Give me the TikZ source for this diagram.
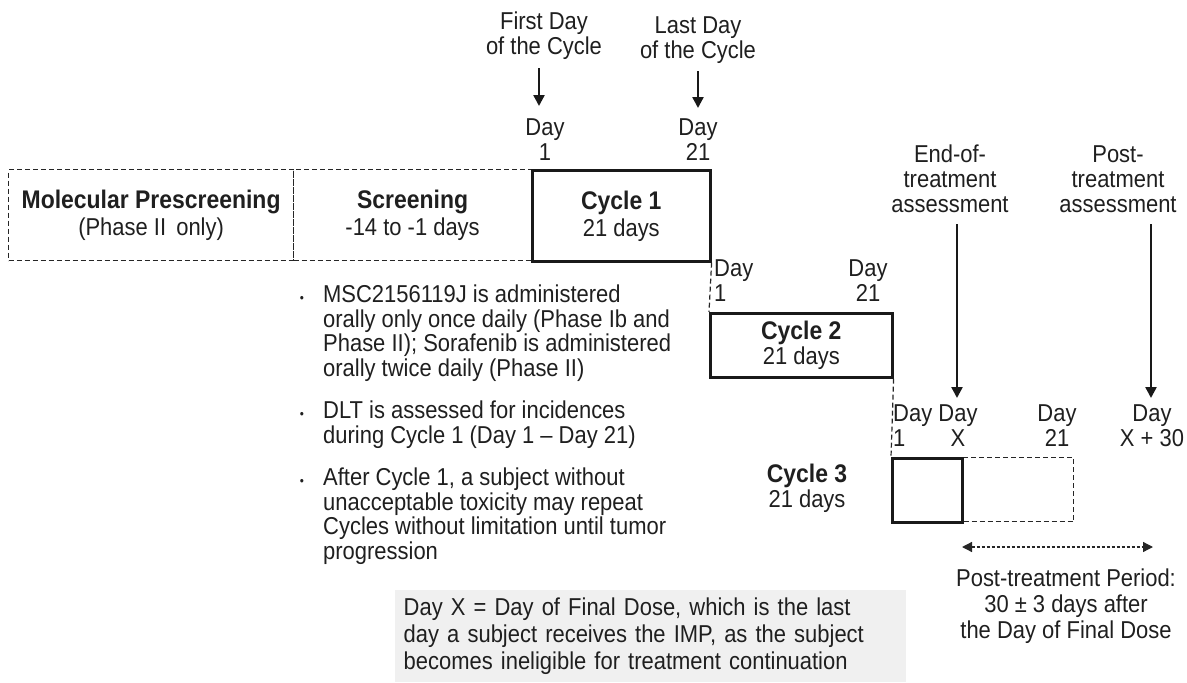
\documentclass[tikz,border=0pt]{standalone}
\usepackage{fontspec}
\setmainfont{Liberation Sans}[FakeStretch=0.9]
\usetikzlibrary{arrows.meta}
\newcommand{\bfl}[1]{{\fontsize{25.5}{25}\selectfont\textbf{#1}}}
\begin{document}
\begin{tikzpicture}[x=1pt,y=-1pt,
  every node/.style={font=\fontsize{24.4}{25}\selectfont, inner sep=0pt, text=black!88},
  lbl/.style={align=center},
  dbox/.style={draw=black!85, line width=1.2pt, dash pattern=on 5pt off 3pt, anchor=north west, align=center},
  sbox/.style={draw=black!90, line width=2.6pt, anchor=north west, align=center},
  arr/.style={draw=black!90, line width=2.4pt, -{Triangle[length=11pt,width=11pt]}},
  darr/.style={draw=black!85, line width=1.3pt, dash pattern=on 3pt off 2pt, {Triangle[length=10pt,width=10pt]}-{Triangle[length=10pt,width=10pt]}},
  conn/.style={draw=black!85, line width=1.2pt, dash pattern=on 5pt off 3pt},
  bul/.style={anchor=north west, align=left, font=\fontsize{24.4}{24.5}\selectfont}
]
\useasboundingbox (0,0) rectangle (1187,683);

% top boxes
\node[dbox, minimum width=285pt, minimum height=91pt] (mol) at (8,169) {\bfl{Molecular Prescreening}\\[2pt](Phase II\, only)};
\node[dbox, minimum width=238pt, minimum height=91pt] (scr) at (293,169) {\bfl{Screening}\\[2pt]-14 to -1 days};
\node[sbox, minimum width=178pt, minimum height=91pt] (c1) at (531,169) {\bfl{Cycle 1}\\[2pt]21 days};

% cycle 2
\node[sbox, minimum width=182pt, minimum height=64pt] (c2) at (709,312) {\bfl{Cycle 2}\\21 days};
\draw[conn] (c1.south east) -- (c2.north west);

% cycle 3
\node[dbox, minimum width=182pt, minimum height=64pt] (c3d) at (891,457) {};
\node[sbox, minimum width=70pt, minimum height=64pt] (c3) at (891,457) {};
\draw[conn] (c2.south east) -- (c3.north west);
\node[lbl] (c3l) at (807,488) {\bfl{Cycle 3}\\21 days};

% top annotations
\node[lbl] (fd) at (544,36) {First Day\\of the Cycle};
\node[lbl] (ld) at (698,40) {Last Day\\of the Cycle};
\coordinate (fda) at (539,68);
\coordinate (fdb) at (539,106);
\coordinate (lda) at (698,71);
\coordinate (ldb) at (698,108);
\draw[arr] (fda) -- (fdb);
\draw[arr] (lda) -- (ldb);
\node[lbl] (d1) at (545,140) {Day\\1};
\node[lbl] (d21) at (698,140) {Day\\21};

% cycle 2 days
\node[anchor=west, align=left] (c2d1) at (714,281) {Day\\1};
\node[lbl] (c2d21) at (868,281) {Day\\21};

% right annotations
\node[lbl] (eot) at (950,179) {End-of-\\treatment\\assessment};
\node[lbl] (pta) at (1118,179) {Post-\\treatment\\assessment};
\coordinate (ea) at (957,224);
\coordinate (eb) at (957,398);
\coordinate (pa) at (1151,224);
\coordinate (pb) at (1151,398);
\draw[arr] (ea) -- (eb);
\draw[arr] (pa) -- (pb);

% cycle 3 days
\node[anchor=west, align=left] (c3d1) at (893,426) {Day\\1};
\node[lbl] (c3dx) at (958,426) {Day\\X};
\node[lbl] (c3d21) at (1057,426) {Day\\21};
\node[lbl] (c3dx30) at (1152,426) {Day\\X + 30};

% post-treatment period
\coordinate (pp1) at (962,547);
\coordinate (pp2) at (1153,547);
\draw[darr] (pp1) -- (pp2);
\node[lbl, font=\fontsize{24.4}{26}\selectfont] (ppt) at (1066,606) {Post-treatment Period:\\30 ± 3 days after\\the Day of Final Dose};

% bullets
\node[bul] (b1) at (323,285) {MSC2156119J is administered\\orally only once daily (Phase Ib and\\Phase II); Sorafenib is administered\\orally twice daily (Phase II)};
\node[bul] (b2) at (323,401) {DLT is assessed for incidences\\during Cycle 1 (Day 1 -- Day 21)};
\node[bul] (b3) at (323,468) {After Cycle 1, a subject without\\unacceptable toxicity may repeat\\Cycles without limitation until tumor\\progression};
\node (bb1) at (302,299) {\fontsize{13}{13}\selectfont\textbullet};
\node (bb2) at (302,415) {\fontsize{13}{13}\selectfont\textbullet};
\node (bb3) at (302,482) {\fontsize{13}{13}\selectfont\textbullet};

% note box
\node[fill=black!6, anchor=north west, minimum width=511pt, minimum height=92pt, text width=494pt, align=left, font=\fontsize{24.4}{27}\selectfont] (note) at (395,590) {Day X = Day of Final Dose, which is the last\\day a subject receives the IMP, as the subject\\becomes ineligible for treatment continuation};
\end{tikzpicture}
\end{document}
